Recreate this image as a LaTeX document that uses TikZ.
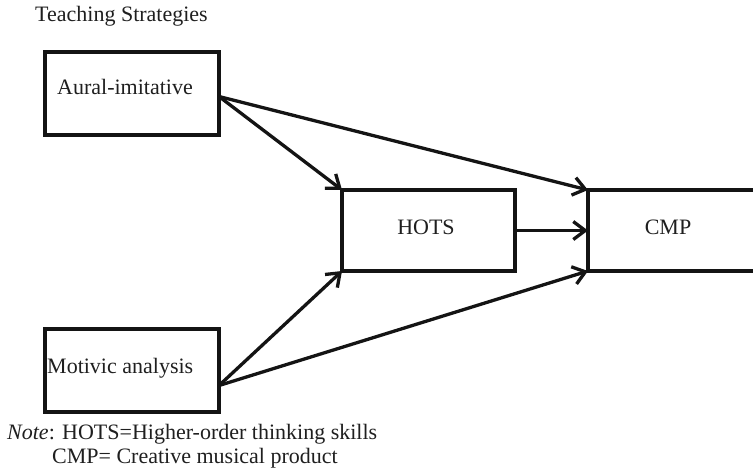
\documentclass[tikz,border=0pt]{standalone}
\usepackage{fontspec}
\setmainfont{Liberation Serif}
\usetikzlibrary{arrows.meta}
\begin{document}
\begin{tikzpicture}[x=1pt,y=-1pt,
  every node/.style={font=\fontsize{22}{26}\selectfont, text=black!88},
  box/.style={draw=black!92, line width=3.3pt, inner sep=0pt, outer sep=0pt},
  link/.style={draw=black!92, line width=3.3pt, -{Straight Barb[length=12pt,width=18pt,line width=3.3pt]}},
  txt/.style={inner sep=0pt, anchor=west}
]
\useasboundingbox (0,0) rectangle (753,472);
\clip (0,0) rectangle (753,472);

% boxes
\node[box, minimum width=174pt, minimum height=83pt] (aural) at (132,93.5) {};
\node[box, minimum width=174pt, minimum height=83pt] (motivic) at (132,370.5) {};
\node[box, minimum width=173pt, minimum height=81pt] (hots) at (428.5,230.5) {};
\node[box, minimum width=220pt, minimum height=81pt] (cmp) at (698,230.5) {};

% labels
\node[txt] (title) at (35,16) {Teaching Strategies};
\node[txt] (auraltxt) at (57,87) {Aural-imitative};
\node[txt] (motivictxt) at (47,368) {Motivic analysis};
\node[inner sep=0pt] (hotstxt) at (426,227) {HOTS};
\node[inner sep=0pt] (cmptxt) at (668,227) {CMP};
\node[txt] (note1) at (7,434) {\textit{Note}: HOTS=Higher-order thinking skills};
\node[txt] (note2) at (52,458) {CMP= Creative musical product};

% start points on the right edges of the strategy boxes
\coordinate (aout) at ([yshift=-3pt]aural.east);
\coordinate (mout) at ([yshift=-15pt]motivic.east);

% paths
\draw[link] (aout) -- (hots.north west);
\draw[link] (aout) -- (cmp.north west);
\draw[link] (mout) -- (hots.south west);
\draw[link] (mout) -- (cmp.south west);
\draw[link] (hots.east) -- (cmp.west);
\end{tikzpicture}
\end{document}
